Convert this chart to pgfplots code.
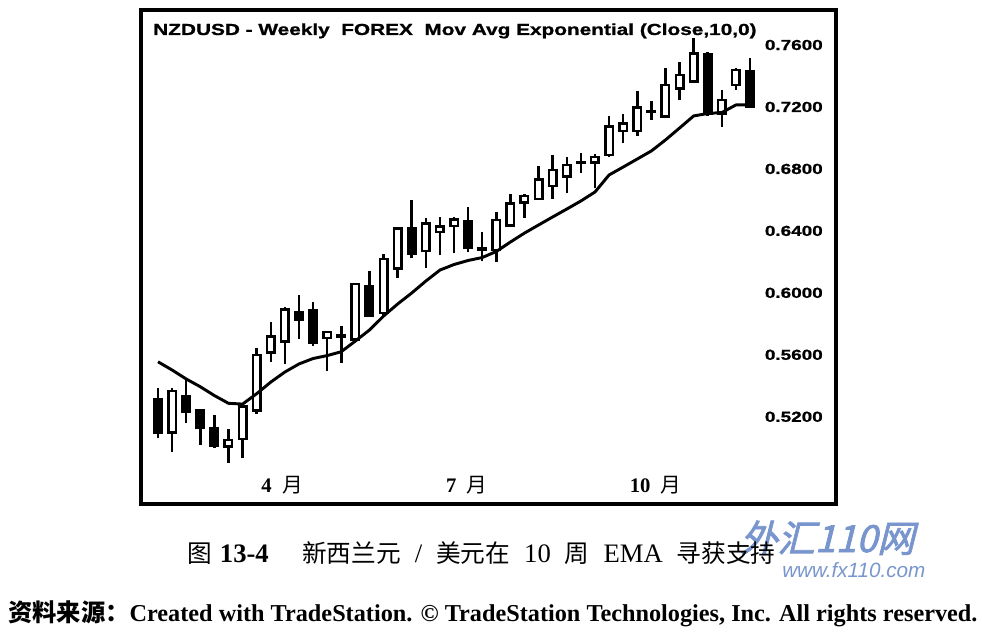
\documentclass[border=0pt]{standalone}
\usepackage{fontspec}
\setmainfont{Liberation Serif}
\newfontfamily\cjk{Noto Sans CJK SC}
\newfontfamily\cjklogo[FakeSlant=0.25,FakeBold=2]{Noto Sans CJK SC}
\newfontfamily\arwb[FakeStretch=1.3,FakeBold=1]{Liberation Sans Bold}
\newfontfamily\wm{Liberation Sans}
\newcommand{\C}[1]{{\cjk\fontsize{18.5}{22}\selectfont #1}}
\newcommand{\gap}{\hspace{10.5pt}}
\usepackage{pgfplots}
\usepackage{pgfplotstable}
\pgfplotsset{compat=1.18}
\definecolor{wmblue}{RGB}{120,150,205}

% white (up) candles: x, low, body low, body high, high
\pgfplotstableread{
x lo bl bh hi
1 0.4974 0.5100 0.5368 0.5384
5 0.4903 0.5007 0.5050 0.5121
6 0.4932 0.5056 0.5265 0.5289
7 0.5221 0.5240 0.5599 0.5641
8 0.5555 0.5614 0.5717 0.5814
9 0.5539 0.5685 0.5894 0.5911
12 0.5495 0.5708 0.5747 0.5754
13 0.5547 0.5715 0.5725 0.5789
14 0.5692 0.5699 0.6057 0.6065
16 0.5850 0.5870 0.6217 0.6249
17 0.6094 0.6158 0.6417 0.6425
19 0.6158 0.6270 0.6449 0.6481
20 0.6244 0.6393 0.6428 0.6492
21 0.6255 0.6433 0.6475 0.6492
23 0.6206 0.6281 0.6288 0.6395
24 0.6201 0.6277 0.6470 0.6524
25 0.6428 0.6435 0.6578 0.6640
26 0.6481 0.6583 0.6625 0.6635
27 0.6599 0.6605 0.6733 0.6822
28 0.6607 0.6690 0.6793 0.6890
29 0.6643 0.6752 0.6825 0.6874
30 0.6772 0.6840 0.6845 0.6901
31 0.6675 0.6843 0.6876 0.6896
32 0.6880 0.6890 0.7073 0.7140
33 0.6965 0.7046 0.7094 0.7156
34 0.7013 0.7045 0.7197 0.7302
35 0.7116 0.7171 0.7175 0.7238
36 0.7127 0.7137 0.7342 0.7450
37 0.7245 0.7320 0.7406 0.7492
38 0.7360 0.7363 0.7546 0.7643
40 0.7073 0.7159 0.7245 0.7310
41 0.7310 0.7342 0.7439 0.7450
}\upc
% black (down) candles
\pgfplotstableread{
x lo bl bh hi
0 0.5061 0.5097 0.5313 0.5384
2 0.5158 0.5233 0.5334 0.5452
3 0.5018 0.5126 0.5240 0.5244
4 0.4998 0.5014 0.5127 0.5211
10 0.5700 0.5825 0.5878 0.5986
11 0.5657 0.5678 0.5889 0.5943
15 0.5844 0.5854 0.6041 0.6141
18 0.6223 0.6255 0.6417 0.6599
22 0.6262 0.6293 0.6464 0.6552
39 0.7142 0.7159 0.7540 0.7557
42 0.7197 0.7202 0.7428 0.7514
}\dnc
% 10-week exponential moving average
\pgfplotstableread{
x ema
0 0.5555
1 0.5502
2 0.5444
3 0.5394
4 0.5337
5 0.5287
6 0.5282
7 0.5349
8 0.5424
9 0.5489
10 0.5541
11 0.5576
12 0.5595
13 0.5620
14 0.5689
15 0.5760
16 0.5850
17 0.5928
18 0.5999
19 0.6076
20 0.6147
21 0.6183
22 0.6209
23 0.6228
24 0.6267
25 0.6328
26 0.6386
27 0.6438
28 0.6490
29 0.6541
30 0.6593
31 0.6651
32 0.6761
33 0.6812
34 0.6864
35 0.6916
36 0.6987
37 0.7064
38 0.7142
39 0.7158
40 0.7164
41 0.7213
42 0.7213
}\ema

\pgfplotsset{
  wick/.style={draw=none, mark=none, error bars/.cd, y dir=plus, y explicit, error mark=none,
    error bar style={draw=black, line width=1.9pt}},
  body/.style={draw=none, mark=none, error bars/.cd, y dir=plus, y explicit, error mark=none,
    error bar style={draw=#1, line width=7.5pt}},
  inner/.style={draw=none, mark=none, error bars/.cd, y dir=plus, y explicit, error mark=none,
    error bar style={draw=white, line width=3.75pt}},
}
\begin{document}
\begin{tikzpicture}
\useasboundingbox (0,0) rectangle (736.5pt,480pt);
\fill[white] (0,0) rectangle (736.5pt,480pt);
\begin{axis}[
  at={(105.75pt,102pt)}, anchor=south west,
  scale only axis, width=521.25pt, height=370.5pt,
  xmin=-1.206, xmax=48.10, ymin=0.4637, ymax=0.7826,
  axis line style={line width=2.4pt},
  xtick={8.8,21.9,35.3},
  xticklabels={{\textbf{4}\hspace{0.5em}{\cjk 月}},{\textbf{7}\hspace{0.5em}{\cjk 月}},{\textbf{10}\hspace{0.5em}{\cjk 月}}},
  xticklabel style={anchor=center, yshift=13.75pt, font=\fontsize{15.5}{17}\selectfont},
  ytick={0.52,0.56,0.60,0.64,0.68,0.72,0.76},
  yticklabels={0.5200,0.5600,0.6000,0.6400,0.6800,0.7200,0.7600},
  yticklabel pos=right,
  yticklabel style={anchor=east, xshift=-9.75pt, inner sep=0pt, font=\arwb\fontsize{10.9}{12}\selectfont},
  major tick length=0pt,
]
% wicks (low to high)
\addplot[wick] table[x=x, y=lo, y error expr={\thisrow{hi}-\thisrow{lo}}] {\upc};
\addplot[wick] table[x=x, y=lo, y error expr={\thisrow{hi}-\thisrow{lo}}] {\dnc};
% black bodies
\addplot[body=black] table[x=x, y expr={\thisrow{bl}-0.0008}, y error expr={\thisrow{bh}-\thisrow{bl}+0.0016}] {\dnc};
% white bodies: black outline, white inside
\addplot[body=black] table[x=x, y expr={\thisrow{bl}-0.0008}, y error expr={\thisrow{bh}-\thisrow{bl}+0.0016}] {\upc};
\addplot[inner] table[x=x, y expr={\thisrow{bl}+0.0008}, y error expr={max(\thisrow{bh}-\thisrow{bl}-0.0016,0)}] {\upc};
% EMA line
\addplot[black, line width=2.2pt, line join=round, mark=none] table[x=x, y=ema] {\ema};
\end{axis}
\node[anchor=base west, inner sep=0pt, font=\arwb\fontsize{12}{14}\selectfont] at (114.75pt,453.75pt) {NZDUSD - Weekly\ \ FOREX\ \ Mov Avg Exponential (Close,10,0)};
\node[anchor=base west, inner sep=0pt, text=wmblue, font=\cjklogo\fontsize{28}{30}\selectfont] at (555pt,66pt) {外汇110网};
\node[anchor=base west, inner sep=0pt, text=wmblue, font=\wm\itshape\fontsize{15.5}{18}\selectfont] at (586.5pt,47.25pt) {www.fx110.com};
\node[anchor=base west, inner sep=0pt, font=\fontsize{20}{22}\selectfont] at (140.25pt,58.5pt) {\C{图}\hspace{6pt}\textbf{13-4}\hspace{25pt}\C{新西兰元}\gap/\gap\C{美元在}\gap10\gap\C{周}\gap EMA\gap\C{寻获支持}};
\node[anchor=base west, inner sep=0pt, font=\bfseries\fontsize{18.2}{20}\selectfont] at (6pt,14.25pt) {{\cjk\bfseries 资料来源：}Created with TradeStation. © TradeStation Technologies, Inc. All rights reserved.};
\end{tikzpicture}
\end{document}
